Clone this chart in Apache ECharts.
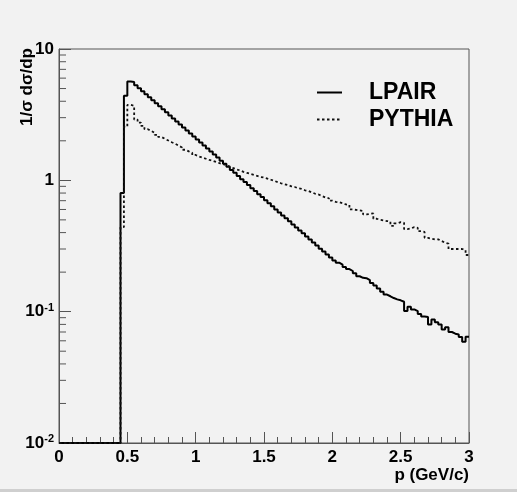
<!DOCTYPE html>
<html>
<head>
<meta charset="utf-8">
<script src="https://cdn.jsdelivr.net/npm/echarts@6/dist/echarts.min.js"></script>
<style>
  html, body { margin: 0; padding: 0; background: #f2f2f2; }
  #chart { width: 517px; height: 492px; }
</style>
</head>
<body>
<div id="chart"></div>
<script>
// histogram binning (GeV/c)
var binWidth = 0.025;
var firstEdge = 0.45;   // everything below is empty
var xMin = 0, xMax = 3;
var yMin = 0.01, yMax = 10;

// 1/sigma dsigma/dp per bin, bins start at 0.45
var lpair = [
    0.80, 4.4, 5.65, 5.6, 5.30, 5.02, 4.76, 4.52, 4.30, 4.08,
    3.87, 3.66, 3.47, 3.30, 3.12, 2.96, 2.81, 2.66, 2.53, 2.40,
    2.27, 2.16, 2.05, 1.94, 1.84, 1.75, 1.66, 1.57, 1.49, 1.41,
    1.34, 1.27, 1.20, 1.14, 1.08, 1.02, 0.97, 0.92, 0.87, 0.83,
    0.785, 0.745, 0.705, 0.67, 0.635, 0.60, 0.57, 0.54, 0.515, 0.487,
    0.462, 0.438, 0.415, 0.395, 0.373, 0.355, 0.336, 0.319, 0.302, 0.287,
    0.272, 0.258, 0.245, 0.236, 0.228, 0.219, 0.211, 0.204, 0.196, 0.186,
    0.181, 0.180, 0.174, 0.165, 0.158, 0.150, 0.142, 0.135, 0.131, 0.127,
    0.124, 0.122, 0.119, 0.101, 0.109, 0.104, 0.101, 0.096, 0.092, 0.091,
    0.080, 0.087, 0.083, 0.080, 0.073, 0.076, 0.070, 0.068, 0.067, 0.064,
    0.059, 0.0645
];
var pythia = [
    0.44, 2.56, 3.75, 3.7, 2.9, 2.75, 2.6, 2.45, 2.38, 2.30,
    2.22, 2.14, 2.07, 2.01, 1.95, 1.90, 1.84, 1.78, 1.71, 1.66,
    1.62, 1.56, 1.52, 1.49, 1.46, 1.43, 1.41, 1.38, 1.35, 1.33,
    1.30, 1.27, 1.24, 1.21, 1.19, 1.16, 1.14, 1.12, 1.10, 1.08,
    1.06, 1.05, 1.03, 1.01, 0.99, 0.97, 0.95, 0.935, 0.92, 0.90,
    0.89, 0.87, 0.86, 0.84, 0.83, 0.81, 0.79, 0.78, 0.76, 0.74,
    0.73, 0.70, 0.685, 0.68, 0.67, 0.655, 0.65, 0.60, 0.595, 0.59,
    0.585, 0.55, 0.555, 0.56, 0.51, 0.50, 0.495, 0.49, 0.485, 0.45,
    0.47, 0.48, 0.475, 0.425, 0.43, 0.44, 0.435, 0.41, 0.405, 0.365,
    0.36, 0.355, 0.355, 0.345, 0.335, 0.33, 0.30, 0.30, 0.30, 0.30,
    0.295, 0.27
];

var xTickStep = 0.5;
var yMinorTicks = [0.02, 0.03, 0.04, 0.05, 0.06, 0.07, 0.08, 0.09,
                   0.2, 0.3, 0.4, 0.5, 0.6, 0.7, 0.8, 0.9,
                   2, 3, 4, 5, 6, 7, 8, 9];

var FONT = '"Liberation Sans", Arial, sans-serif';

// step outline of a histogram, empty region drawn on the axis floor
function histPath(vals) {
    var pts = [[xMin, yMin], [firstEdge, yMin]];
    for (var i = 0; i < vals.length; i++) {
        var lo = firstEdge + i * binWidth;
        var v = vals[i] > 0 ? vals[i] : yMin;
        pts.push([lo, v]);
        pts.push([lo + binWidth, v]);
    }
    return pts;
}

var chart = echarts.init(document.getElementById('chart'));

chart.setOption({
    backgroundColor: '#f2f2f2',
    animation: false,
    grid: {
        left: 59, right: 48, top: 49, bottom: 49,
        show: true,
        borderColor: '#555',
        borderWidth: 1,
        backgroundColor: 'transparent'
    },
    legend: {
        data: ['LPAIR', 'PYTHIA'],
        orient: 'vertical',
        left: 311,
        top: 76,
        itemWidth: 25,
        itemHeight: 14,
        itemGap: 4,
        itemStyle: { opacity: 0 },   // line only, no marker
        textStyle: {
            fontFamily: FONT,
            fontWeight: 'bold',
            fontSize: 23,
            lineHeight: 22,
            color: '#000',
            padding: [0, 0, 0, 22]
        }
    },
    xAxis: {
        type: 'value',
        min: xMin,
        max: xMax,
        interval: xTickStep,
        axisLine: { lineStyle: { color: '#555' } },
        axisTick: { inside: true, length: 11, lineStyle: { color: '#555' } },
        minorTick: { show: true, splitNumber: 5, length: 6, lineStyle: { color: '#555' } },
        splitLine: { show: false },
        axisLabel: {
            margin: 6,
            color: '#000',
            fontFamily: FONT,
            fontWeight: 'bold',
            fontSize: 17
        }
    },
    yAxis: {
        type: 'log',
        logBase: 10,
        min: yMin,
        max: yMax,
        axisLine: { show: true, lineStyle: { color: '#555' } },
        axisTick: { show: true, inside: true, length: 12, lineStyle: { color: '#555' } },
        splitLine: { show: false },
        axisLabel: {
            margin: 5,
            formatter: function (v) {
                var e = Math.round(Math.log10(v));
                if (e === 0) return '{b|1}';
                if (e === 1) return '{b|10}';
                return '{b|10}{s|' + e + '}';
            },
            rich: {
                b: { fontFamily: FONT, fontWeight: 'bold', fontSize: 17, color: '#000' },
                s: { fontFamily: FONT, fontWeight: 'bold', fontSize: 11, color: '#000',
                     verticalAlign: 'top', padding: [0, 0, 8, 0] }
            }
        }
    },
    series: [
        {
            name: 'LPAIR',
            type: 'line',
            data: histPath(lpair),
            symbol: 'none',
            color: '#000',
            lineStyle: { color: '#000', width: 2 }
        },
        {
            name: 'PYTHIA',
            type: 'line',
            data: histPath(pythia),
            symbol: 'none',
            color: '#000',
            lineStyle: { color: '#111', width: 1.8, type: [2.5, 2.5] }
        },
        {
            // log minor ticks at 2..9 of each decade
            name: 'minor',
            type: 'custom',
            silent: true,
            data: yMinorTicks.map(function (v) { return [xMin, v]; }),
            renderItem: function (params, api) {
                var pt = api.coord([xMin, api.value(1)]);
                return {
                    type: 'line',
                    shape: { x1: pt[0], y1: pt[1], x2: pt[0] + 7, y2: pt[1] },
                    style: { stroke: '#555', lineWidth: 1 }
                };
            }
        }
    ],
    graphic: [
        {
            type: 'text',
            x: 27, y: 48,
            rotation: Math.PI / 2,
            style: {
                text: '1/σ dσ/dp',
                font: 'bold 17px ' + FONT,
                fill: '#000',
                align: 'right', textAlign: 'right',
                verticalAlign: 'middle', textVerticalAlign: 'middle'
            }
        },
        {
            type: 'text',
            x: 469, y: 475,
            style: {
                text: 'p (GeV/c)',
                font: 'bold 17px ' + FONT,
                fill: '#000',
                align: 'right', textAlign: 'right',
                verticalAlign: 'middle', textVerticalAlign: 'middle'
            }
        },
        {
            type: 'rect',
            shape: { x: 0, y: 489, width: 517, height: 3 },
            style: { fill: '#cfcfcf' }
        }
    ]
});
</script>
</body>
</html>
